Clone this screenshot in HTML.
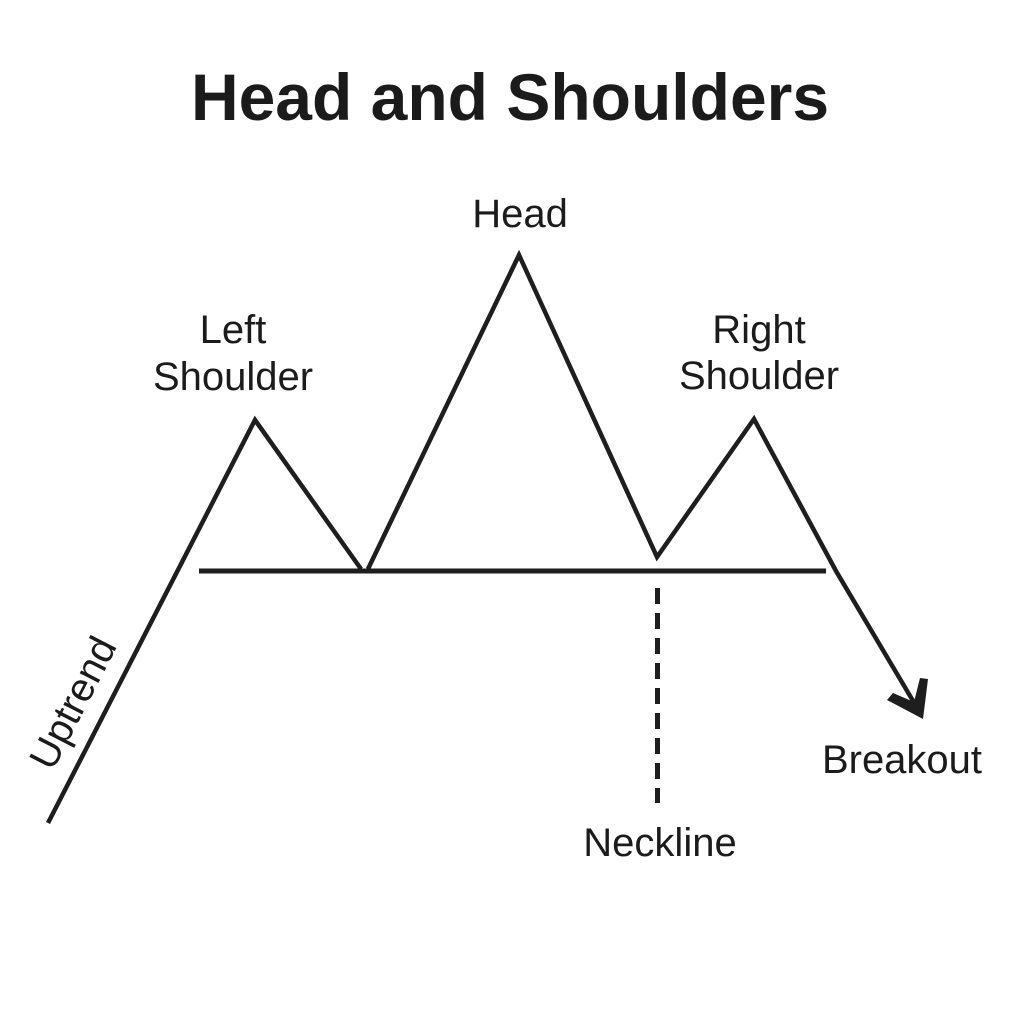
<!DOCTYPE html>
<html>
<head>
<meta charset="utf-8">
<style>
  html, body { margin: 0; padding: 0; background: #ffffff; }
  body { width: 1024px; height: 1024px; overflow: hidden; }
  svg { display: block; }
  text { font-family: "Liberation Sans", "DejaVu Sans", sans-serif; fill: #1b1b1b; }
</style>
</head>
<body>
<svg width="1024" height="1024" viewBox="0 0 1024 1024" xmlns="http://www.w3.org/2000/svg">
  <rect width="1024" height="1024" fill="#ffffff"/>

  <!-- Title -->
  <text x="510" y="120" font-size="66" font-weight="bold" text-anchor="middle">Head and Shoulders</text>

  <!-- Labels -->
  <text x="520" y="227" font-size="40" text-anchor="middle">Head</text>
  <text x="233" y="343" font-size="40" text-anchor="middle">Left</text>
  <text x="233" y="390" font-size="40" text-anchor="middle">Shoulder</text>
  <text x="759" y="343" font-size="40" text-anchor="middle">Right</text>
  <text x="759" y="389" font-size="40" text-anchor="middle">Shoulder</text>
  <text x="902" y="773" font-size="40" text-anchor="middle">Breakout</text>
  <text x="660" y="856" font-size="40" text-anchor="middle">Neckline</text>
  <text x="0" y="0" font-size="40" text-anchor="middle" transform="translate(85,709) rotate(-62.7)">Uptrend</text>

  <!-- Neckline -->
  <line x1="199" y1="571" x2="826" y2="571" stroke="#1e1e1e" stroke-width="5" stroke-linecap="butt"/>

  <!-- Dashed vertical -->
  <line x1="657.5" y1="588" x2="657.5" y2="803" stroke="#1e1e1e" stroke-width="5" stroke-dasharray="16 9"/>

  <!-- Price path -->
  <path d="M48,823 L255,420 L361,569 M368,569 L519,255 L657,557 L754,419 L836,571 L919,711"
        fill="none" stroke="#1e1e1e" stroke-width="4.5" stroke-linejoin="miter" stroke-linecap="butt"/>

  <!-- Arrowhead -->
  <polygon points="887,700 923,719 928,679 920,678 914,702 893,693" fill="#1e1e1e"/>
</svg>
</body>
</html>
